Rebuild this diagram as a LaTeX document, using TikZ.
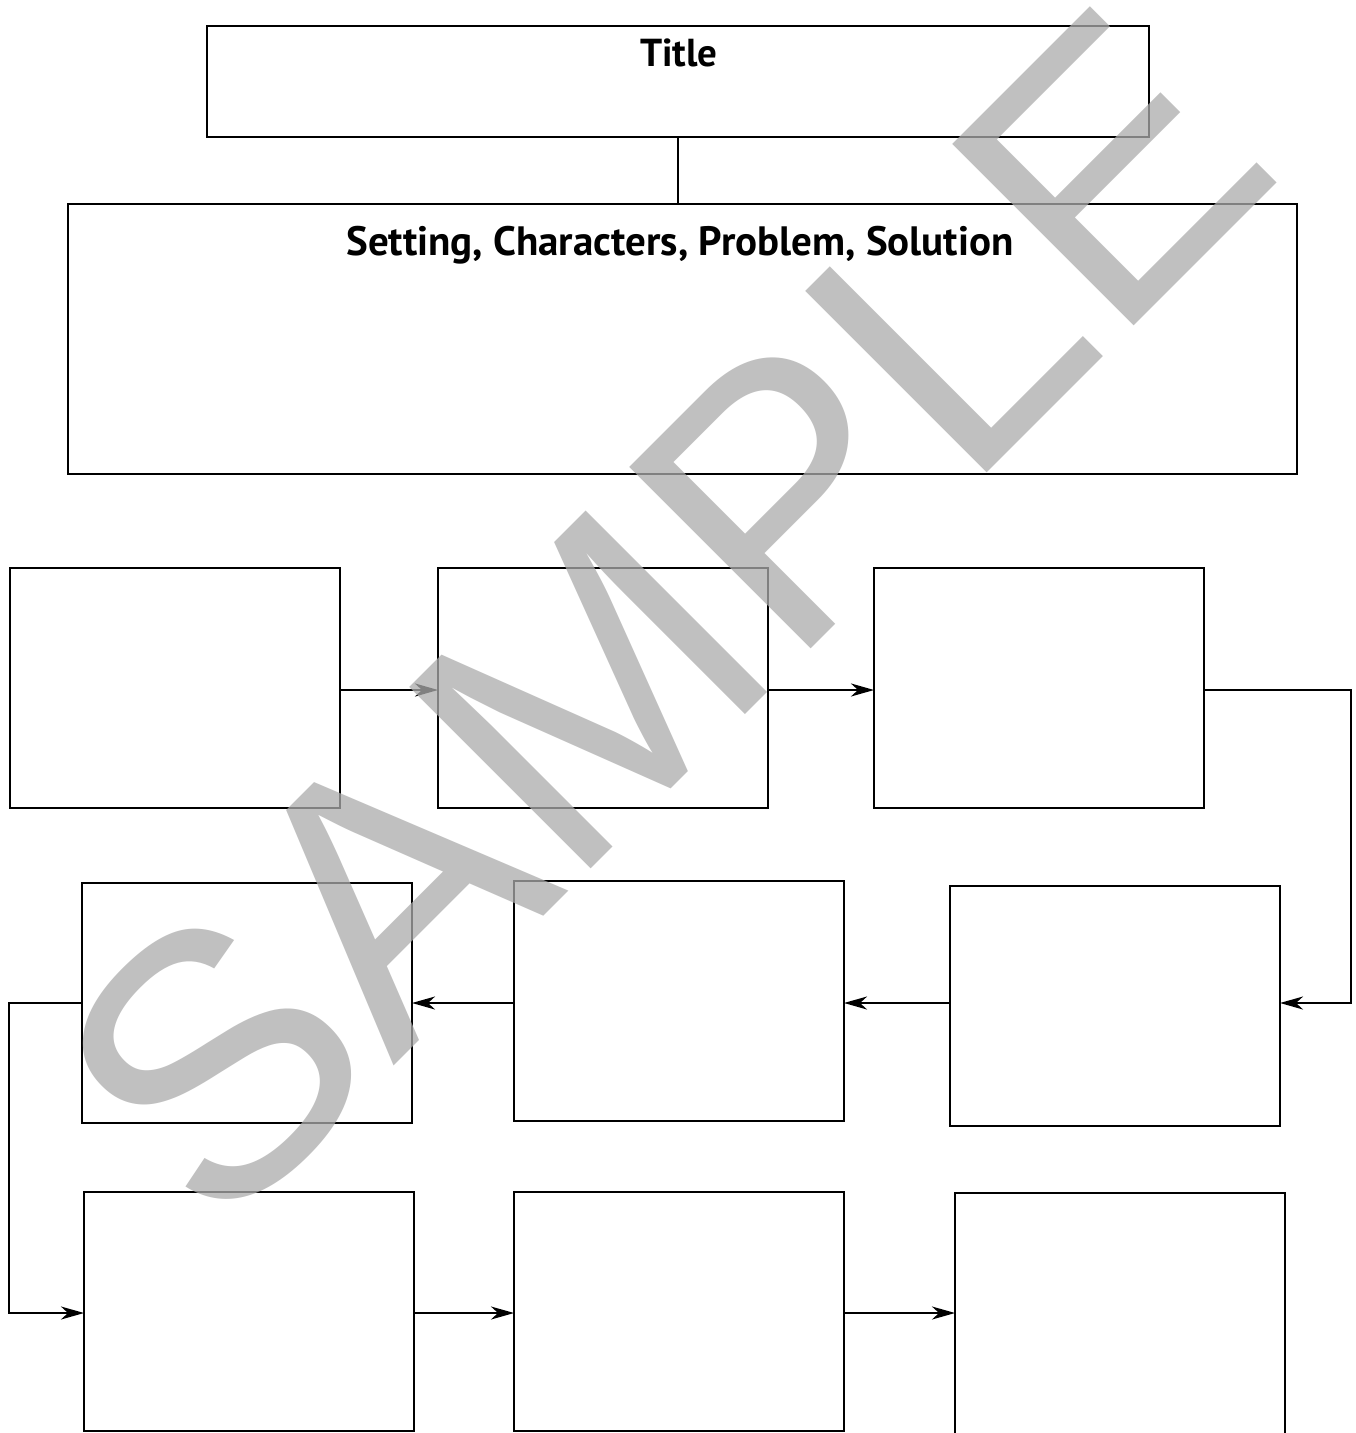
\documentclass[tikz,border=0pt]{standalone}
\usepackage{fontspec}
\setmainfont{PT Sans}
\newfontfamily\wmfont{Liberation Sans}
\usetikzlibrary{arrows.meta}
\begin{document}
\begin{tikzpicture}[x=1pt,y=-1pt,
  box/.style={draw=black,line width=2.6pt,rectangle,inner sep=0pt,outer sep=0pt},
  arr/.style={line width=2.4pt,-{Stealth[length=23pt,width=13pt,inset=7pt]}},
  conn/.style={line width=2.4pt},
  lbl/.style={font=\fontsize{41}{44}\selectfont\bfseries,anchor=base,inner sep=0pt}]
\clip (0,0) rectangle (1356,1433);
\fill[white] (0,0) rectangle (1356,1433);
% top boxes
\node[box,minimum width=942pt,minimum height=111pt] (title) at (678,81.5) {};
\node[box,minimum width=1229pt,minimum height=270pt] (setting) at (682.5,339) {};
\node[lbl,font=\fontsize{39}{42}\selectfont\bfseries] (titletext) at (679,66) {Title};
\node[lbl] (settext) at (680,255) {Setting, Characters, Problem, Solution};
\draw[conn] (title.south) -- (title.south |- setting.north);
% row 1
\node[box,minimum width=330pt,minimum height=240pt] (A) at (175,688) {};
\node[box,minimum width=330pt,minimum height=240pt] (B) at (603,688) {};
\node[box,minimum width=330pt,minimum height=240pt] (C) at (1039,688) {};
% row 2
\node[box,minimum width=330pt,minimum height=240pt] (D) at (247,1003) {};
\node[box,minimum width=330pt,minimum height=240pt] (E) at (679,1001) {};
\node[box,minimum width=330pt,minimum height=240pt] (F) at (1115,1006) {};
% row 3
\node[box,minimum width=330pt,minimum height=239pt] (G) at (249,1311.5) {};
\node[box,minimum width=330pt,minimum height=239pt] (H) at (679,1311.5) {};
\node[box,minimum width=330pt,minimum height=250pt] (I) at (1120,1318) {};
% helper coordinates
\coordinate (r1) at (0,690);
\coordinate (r2) at (0,1003);
\coordinate (r3) at (0,1313);
\coordinate (cr) at (1351,0);
\coordinate (cl) at (9,0);
% connectors
\draw[arr] (A.east |- r1) -- (B.west |- r1);
\draw[arr] (B.east |- r1) -- (C.west |- r1);
\draw[arr] (C.east |- r1) -- (cr |- r1) -- (cr |- r2) -- (F.east |- r2);
\draw[arr] (F.west |- r2) -- (E.east |- r2);
\draw[arr] (E.west |- r2) -- (D.east |- r2);
\draw[arr] (D.west |- r2) -- (cl |- r2) -- (cl |- r3) -- (G.west |- r3);
\draw[arr] (G.east |- r3) -- (H.west |- r3);
\draw[arr] (H.east |- r3) -- (I.west |- r3);
% watermark
\node[rotate=45,anchor=base,inner sep=0pt,text=black!33,opacity=0.75,
  font=\wmfont\fontsize{373}{373}\selectfont] (wm) at (753,707) {SAMPLE};
\end{tikzpicture}
\end{document}
